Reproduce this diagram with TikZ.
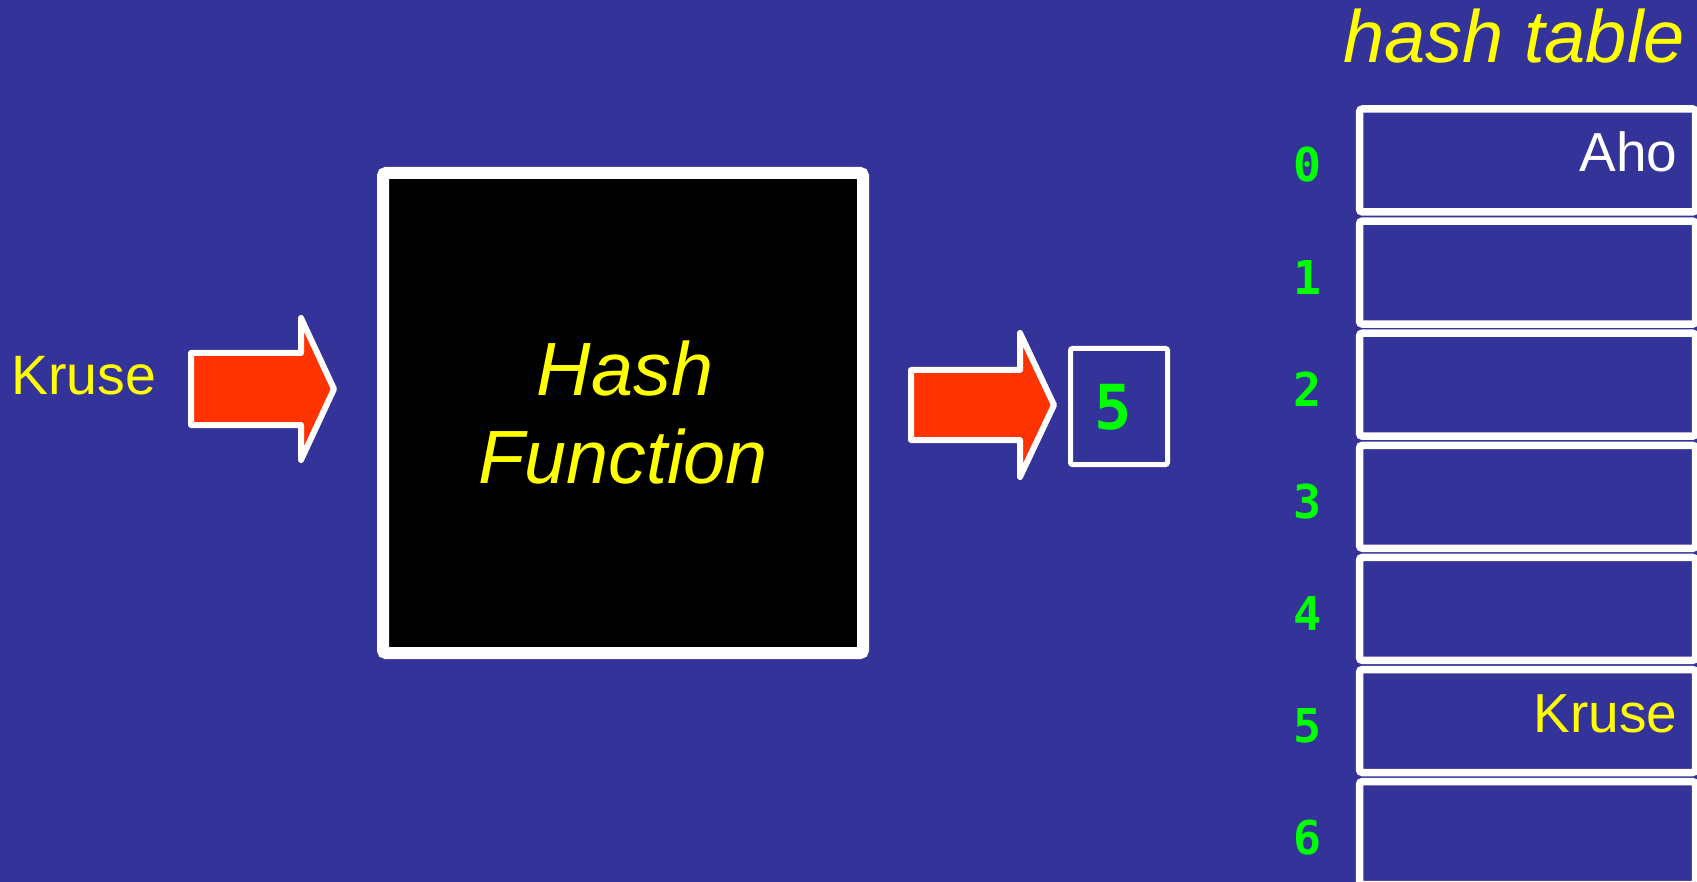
\documentclass[tikz,border=0pt]{standalone}
\usepackage{fontspec}
\setmainfont{Liberation Sans}
\newfontfamily\digitfont{DejaVu Sans Mono}
\definecolor{slidebg}{RGB}{51,51,153}
\definecolor{arrowred}{RGB}{255,51,0}
\definecolor{hashyellow}{RGB}{255,255,0}
\definecolor{idxgreen}{RGB}{0,255,0}
\tikzset{
  blockarrow/.style={fill=arrowred, draw=white, line width=6pt, line join=round},
  slot/.style={draw=white, line width=7.5pt, rounded corners=3pt, minimum width=336pt,
    minimum height=103pt, inner sep=0pt, outer sep=0pt, anchor=north west},
  slotidx/.style={text=idxgreen, inner sep=0pt, font=\digitfont\bfseries\fontsize{46.6}{50}\selectfont},
  entry/.style={inner sep=0pt, anchor=base east, font=\fontsize{55}{60}\selectfont},
}
\begin{document}
\begin{tikzpicture}[x=1pt, y=-1pt]
  % canvas
  \path[fill=slidebg, use as bounding box] (0,0) rectangle (1697,882);

  % input key
  \node (key) [anchor=base west, inner sep=0pt, text=hashyellow,
    font=\fontsize{55.5}{60}\selectfont] at (11,395) {Kruse};

  % arrow into the hash function
  \draw[blockarrow] (191,353) -- (301,353) -- (301,318) -- (334,389)
    -- (301,460) -- (301,425) -- (191,425) -- cycle;

  % the hash function box
  \node (hf) [draw=white, fill=black, line width=12pt, rounded corners=3pt,
    minimum width=480pt, minimum height=480pt, inner sep=0pt, outer sep=0pt,
    align=center, text=hashyellow, font=\itshape\fontsize{75.5}{88}\selectfont]
    at (623,413) {\hspace*{4pt}Hash\\Function};

  % arrow out of the hash function
  \draw[blockarrow] (911,370) -- (1020,370) -- (1020,333) -- (1054,405)
    -- (1020,477) -- (1020,440) -- (911,440) -- cycle;

  % resulting index
  \node (res) [draw=white, line width=5pt, rounded corners=2pt, minimum width=97pt,
    minimum height=116pt, inner sep=0pt, outer sep=0pt] at (1119,406.5) {};
  \node (resval) [text=idxgreen, inner sep=0pt,
    font=\digitfont\bfseries\fontsize{62}{66}\selectfont] at (1113,407.5) {5};

  % table title
  \node (title) [anchor=base east, inner sep=0pt, text=hashyellow,
    font=\itshape\fontsize{74}{80}\selectfont] at (1685,63) {hash table};

  % table slots with their indices
  \foreach \i in {0,...,6} {
    \node (slot\i) [slot] at (1359.5,{109+112.1*\i}) {};
    \node (idx\i) [slotidx] at (1308,{165+112.1*\i}) {\i};
  }

  % stored entries
  \node (e0) [entry, text=white] at ([xshift=-18pt,yshift=-11.5pt]slot0.east) {Aho};
  \node (e5) [entry, text=hashyellow] at ([xshift=-18pt,yshift=-11.5pt]slot5.east) {Kruse};
\end{tikzpicture}
\end{document}
